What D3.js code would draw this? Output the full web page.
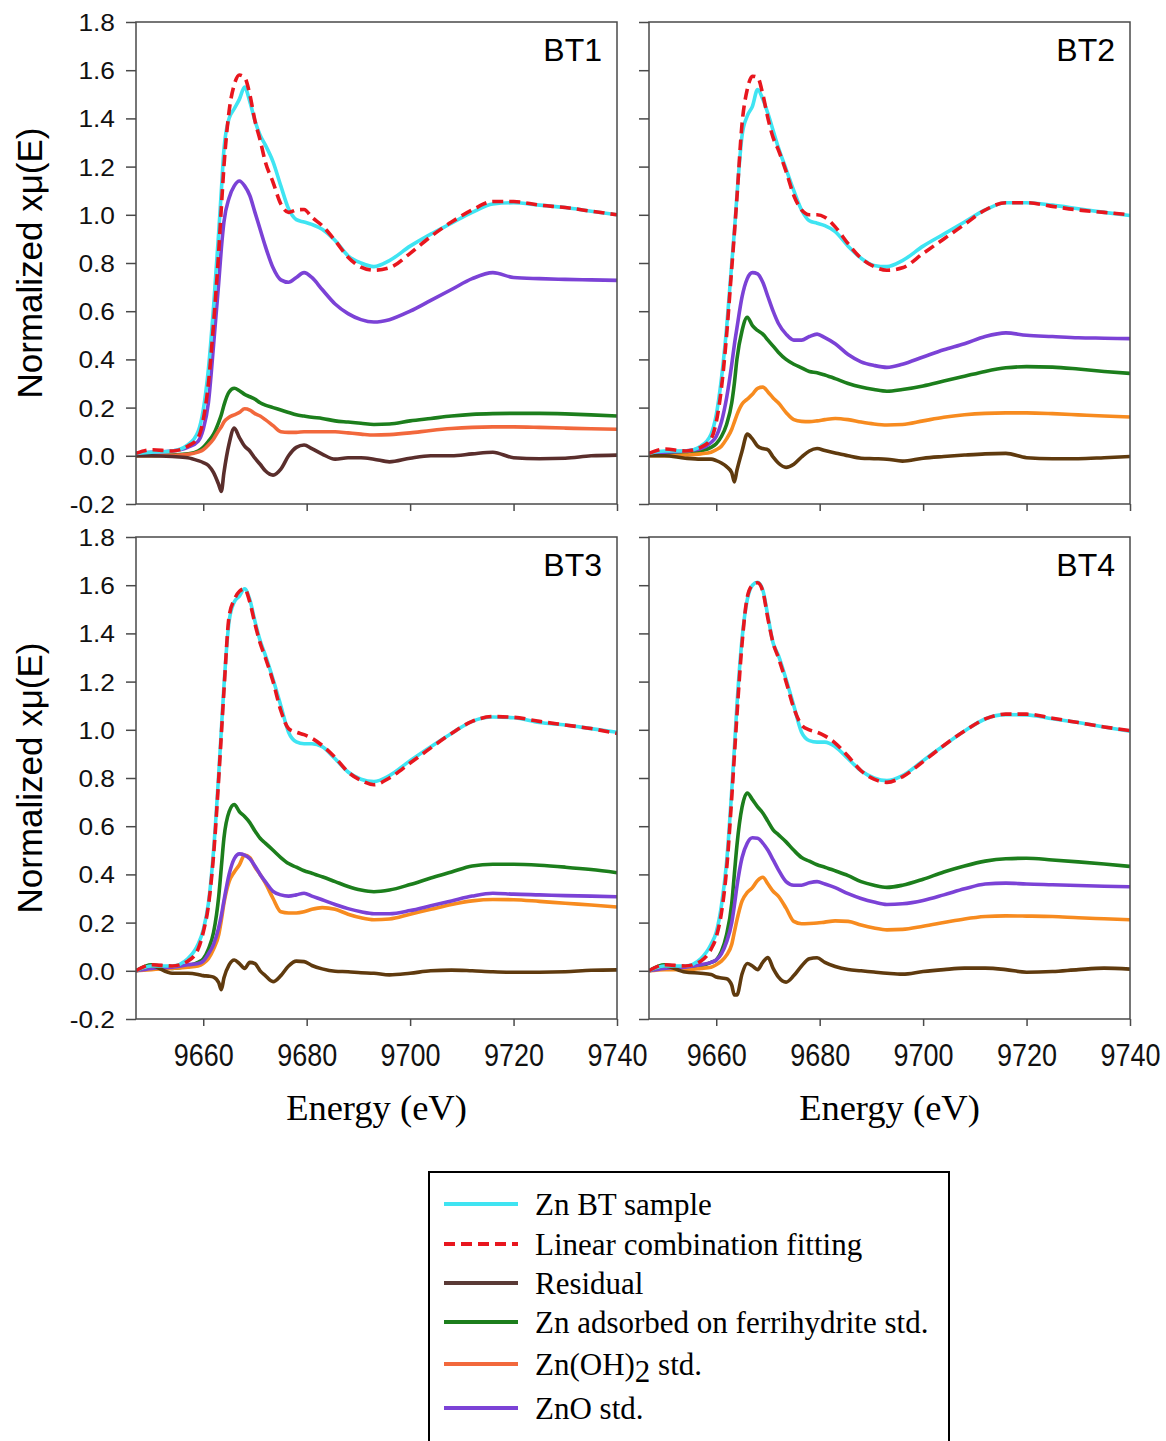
<!DOCTYPE html>
<html>
<head>
<meta charset="utf-8">
<script src="https://cdn.jsdelivr.net/npm/d3@7"></script>
<style>
  body { margin: 0; background: #fff; }
  svg { display: block; }
</style>
</head>
<body>
<svg id="chart" width="1166" height="1441"></svg>
<script>
// Zn K-edge XANES, linear combination fits for four samples (BT1-BT4)
const energy = [9647, 9650, 9654, 9657, 9659, 9660, 9661, 9662, 9663, 9663.5, 9664, 9665, 9666, 9667, 9668, 9669, 9670, 9671, 9672, 9673.5, 9675, 9676.5, 9678, 9679.5, 9681, 9683, 9685.5, 9688, 9690.5, 9693, 9696, 9700, 9704, 9708, 9712, 9716, 9720, 9725, 9730, 9735, 9740];

const bt1Sample = [0.01, 0.015, 0.02, 0.045, 0.10, 0.19, 0.36, 0.62, 0.93, 1.10, 1.27, 1.40, 1.44, 1.48, 1.53, 1.47, 1.39, 1.33, 1.29, 1.22, 1.12, 1.025, 0.98, 0.97, 0.96, 0.94, 0.893, 0.83, 0.80, 0.785, 0.81, 0.87, 0.92, 0.965, 1.01, 1.045, 1.05, 1.04, 1.03, 1.015, 1.0];
const bt1Fit = [0.01, 0.025, 0.02, 0.04, 0.075, 0.15, 0.30, 0.55, 0.85, 1.03, 1.20, 1.43, 1.54, 1.58, 1.57, 1.50, 1.39, 1.31, 1.22, 1.135, 1.045, 1.01, 1.02, 1.022, 0.99, 0.955, 0.893, 0.824, 0.783, 0.77, 0.78, 0.84, 0.91, 0.97, 1.02, 1.055, 1.055, 1.04, 1.03, 1.015, 1.0];
const bt1Residual = [0, 0, -0.003, -0.008, -0.02, -0.028, -0.04, -0.07, -0.12, -0.148, -0.07, 0.05, 0.115, 0.075, 0.04, 0.02, -0.01, -0.035, -0.062, -0.08, -0.055, 0.0, 0.035, 0.045, 0.03, 0.007, -0.014, -0.008, -0.008, -0.014, -0.025, -0.01, 0.0, 0.0, 0.008, 0.015, -0.008, -0.012, -0.01, 0.0, 0.003];
const bt1Ferrihydrite = [0, 0, 0.003, 0.008, 0.02, 0.035, 0.06, 0.09, 0.14, 0.17, 0.21, 0.265, 0.28, 0.27, 0.255, 0.245, 0.235, 0.22, 0.21, 0.20, 0.19, 0.18, 0.17, 0.165, 0.16, 0.155, 0.145, 0.14, 0.135, 0.13, 0.132, 0.145, 0.155, 0.165, 0.172, 0.175, 0.176, 0.176, 0.174, 0.17, 0.165];
const bt1ZnOH2 = [0, 0, 0.002, 0.006, 0.015, 0.025, 0.045, 0.07, 0.105, 0.12, 0.14, 0.16, 0.17, 0.18, 0.195, 0.19, 0.175, 0.165, 0.15, 0.125, 0.10, 0.097, 0.097, 0.1, 0.1, 0.1, 0.1, 0.095, 0.09, 0.086, 0.088, 0.095, 0.105, 0.113, 0.118, 0.12, 0.12, 0.118, 0.115, 0.112, 0.11];
const bt1ZnO = [0.01, 0.015, 0.02, 0.035, 0.06, 0.11, 0.22, 0.46, 0.72, 0.86, 0.97, 1.07, 1.12, 1.14, 1.12, 1.08, 1.01, 0.94, 0.87, 0.78, 0.73, 0.72, 0.74, 0.76, 0.74, 0.69, 0.63, 0.59, 0.565, 0.555, 0.565, 0.60, 0.645, 0.69, 0.735, 0.76, 0.74, 0.735, 0.732, 0.73, 0.728];

const bt2Sample = [0.01, 0.02, 0.02, 0.04, 0.09, 0.17, 0.32, 0.53, 0.80, 0.93, 1.08, 1.33, 1.41, 1.45, 1.52, 1.48, 1.42, 1.35, 1.28, 1.19, 1.10, 1.02, 0.975, 0.965, 0.955, 0.93, 0.87, 0.82, 0.79, 0.785, 0.81, 0.87, 0.92, 0.97, 1.02, 1.05, 1.05, 1.04, 1.025, 1.01, 0.997];
const bt2Fit = [0.01, 0.028, 0.02, 0.035, 0.07, 0.14, 0.28, 0.50, 0.78, 0.92, 1.07, 1.38, 1.52, 1.575, 1.57, 1.50, 1.40, 1.32, 1.27, 1.18, 1.08, 1.02, 1.0, 1.0, 0.99, 0.95, 0.88, 0.82, 0.785, 0.77, 0.78, 0.84, 0.90, 0.96, 1.02, 1.05, 1.05, 1.035, 1.02, 1.01, 1.0];
const bt2Residual = [0, 0, -0.01, -0.014, -0.014, -0.02, -0.03, -0.045, -0.07, -0.108, -0.06, 0.02, 0.09, 0.07, 0.04, 0.03, 0.025, -0.005, -0.03, -0.048, -0.035, -0.005, 0.02, 0.03, 0.022, 0.012, 0.0, -0.01, -0.012, -0.014, -0.022, -0.01, -0.003, 0.003, 0.008, 0.01, -0.008, -0.012, -0.012, -0.008, -0.003];
const bt2Ferrihydrite = [0.005, 0.015, 0.01, 0.02, 0.035, 0.05, 0.08, 0.13, 0.22, 0.30, 0.40, 0.52, 0.575, 0.54, 0.52, 0.505, 0.48, 0.455, 0.43, 0.40, 0.38, 0.365, 0.35, 0.345, 0.335, 0.32, 0.30, 0.285, 0.275, 0.268, 0.275, 0.29, 0.31, 0.33, 0.35, 0.365, 0.37, 0.368, 0.36, 0.35, 0.342];
const bt2ZnOH2 = [0, 0, 0.003, 0.008, 0.015, 0.025, 0.04, 0.07, 0.11, 0.14, 0.17, 0.215, 0.235, 0.255, 0.28, 0.285, 0.265, 0.24, 0.22, 0.18, 0.15, 0.143, 0.142, 0.145, 0.15, 0.155, 0.15, 0.14, 0.132, 0.128, 0.13, 0.145, 0.16, 0.17, 0.176, 0.178, 0.178, 0.175, 0.17, 0.165, 0.161];
const bt2ZnO = [0.01, 0.015, 0.02, 0.03, 0.055, 0.08, 0.14, 0.24, 0.38, 0.46, 0.53, 0.66, 0.735, 0.76, 0.755, 0.72, 0.66, 0.60, 0.55, 0.505, 0.48, 0.48, 0.495, 0.505, 0.49, 0.465, 0.42, 0.39, 0.375, 0.367, 0.38, 0.41, 0.44, 0.465, 0.495, 0.51, 0.50, 0.495, 0.49, 0.488, 0.486];

const bt3Sample = [0.0, 0.02, 0.02, 0.05, 0.11, 0.17, 0.28, 0.50, 0.82, 1.0, 1.18, 1.45, 1.53, 1.555, 1.585, 1.54, 1.45, 1.37, 1.31, 1.21, 1.10, 0.99, 0.95, 0.942, 0.942, 0.93, 0.88, 0.825, 0.795, 0.785, 0.81, 0.872, 0.93, 0.985, 1.035, 1.053, 1.05, 1.03, 1.02, 1.005, 0.99];
const bt3Fit = [0.0, 0.025, 0.02, 0.04, 0.09, 0.16, 0.27, 0.48, 0.80, 0.98, 1.16, 1.47, 1.54, 1.575, 1.585, 1.53, 1.44, 1.36, 1.30, 1.20, 1.08, 1.005, 0.99, 0.98, 0.965, 0.935, 0.885, 0.825, 0.79, 0.772, 0.80, 0.862, 0.925, 0.985, 1.035, 1.055, 1.052, 1.035, 1.02, 1.005, 0.985];
const bt3Residual = [0, 0.02, -0.01, -0.01, -0.015, -0.02, -0.022, -0.026, -0.05, -0.078, -0.03, 0.025, 0.045, 0.03, 0.01, 0.035, 0.03, 0.0, -0.02, -0.045, -0.02, 0.02, 0.04, 0.038, 0.022, 0.008, -0.002, -0.004, -0.008, -0.01, -0.017, -0.01, 0.0, 0.003, 0.0, -0.004, -0.006, -0.006, -0.004, 0.002, 0.004];
const bt3Ferrihydrite = [0, 0.025, 0.01, 0.02, 0.035, 0.05, 0.09, 0.16, 0.31, 0.43, 0.55, 0.66, 0.69, 0.66, 0.64, 0.615, 0.58, 0.55, 0.53, 0.50, 0.47, 0.445, 0.43, 0.415, 0.405, 0.39, 0.37, 0.35, 0.335, 0.328, 0.335, 0.358, 0.385, 0.41, 0.435, 0.442, 0.442, 0.438, 0.43, 0.42, 0.407];
const bt3ZnOH2 = [0, 0.005, 0.01, 0.015, 0.02, 0.03, 0.05, 0.09, 0.15, 0.21, 0.28, 0.37, 0.41, 0.44, 0.48, 0.47, 0.43, 0.40, 0.365, 0.30, 0.245, 0.24, 0.24, 0.245, 0.255, 0.262, 0.255, 0.235, 0.22, 0.212, 0.215, 0.235, 0.255, 0.275, 0.29, 0.296, 0.295, 0.288, 0.28, 0.273, 0.265];
const bt3ZnO = [0, 0.01, 0.015, 0.025, 0.03, 0.04, 0.07, 0.11, 0.18, 0.23, 0.29, 0.40, 0.465, 0.485, 0.48, 0.465, 0.435, 0.40, 0.37, 0.33, 0.315, 0.31, 0.315, 0.322, 0.31, 0.295, 0.275, 0.258, 0.245, 0.237, 0.237, 0.25, 0.27, 0.29, 0.31, 0.322, 0.318, 0.315, 0.312, 0.31, 0.307];

const bt4Sample = [0.0, 0.02, 0.02, 0.05, 0.11, 0.16, 0.27, 0.45, 0.75, 0.92, 1.10, 1.38, 1.54, 1.60, 1.612, 1.58, 1.47, 1.36, 1.31, 1.21, 1.10, 0.99, 0.955, 0.949, 0.949, 0.93, 0.88, 0.83, 0.80, 0.789, 0.81, 0.872, 0.935, 0.995, 1.045, 1.063, 1.062, 1.046, 1.03, 1.012, 0.994];
const bt4Fit = [0.0, 0.025, 0.02, 0.04, 0.09, 0.14, 0.24, 0.42, 0.72, 0.89, 1.06, 1.36, 1.55, 1.60, 1.61, 1.575, 1.46, 1.36, 1.30, 1.20, 1.09, 1.02, 1.0, 0.99, 0.975, 0.945, 0.89, 0.83, 0.795, 0.782, 0.805, 0.868, 0.935, 0.995, 1.045, 1.065, 1.065, 1.048, 1.03, 1.012, 0.997];
const bt4Residual = [0, 0.02, -0.005, -0.01, -0.015, -0.026, -0.03, -0.033, -0.06, -0.1, -0.1, -0.012, 0.03, 0.02, 0.005, 0.035, 0.055, 0.01, -0.025, -0.047, -0.02, 0.02, 0.05, 0.054, 0.035, 0.018, 0.005, 0.0, -0.005, -0.01, -0.014, -0.003, 0.005, 0.011, 0.011, 0.005, -0.006, -0.003, 0.005, 0.011, 0.007];
const bt4Ferrihydrite = [0, 0.025, 0.01, 0.02, 0.035, 0.045, 0.08, 0.15, 0.28, 0.40, 0.52, 0.68, 0.738, 0.71, 0.68, 0.655, 0.62, 0.585, 0.565, 0.535, 0.50, 0.47, 0.455, 0.44, 0.43, 0.415, 0.395, 0.37, 0.355, 0.346, 0.355, 0.38, 0.41, 0.435, 0.455, 0.465, 0.467, 0.46, 0.452, 0.443, 0.433];
const bt4ZnOH2 = [0, 0.005, 0.005, 0.01, 0.015, 0.025, 0.04, 0.065, 0.11, 0.16, 0.21, 0.29, 0.325, 0.345, 0.375, 0.388, 0.36, 0.33, 0.31, 0.26, 0.205, 0.195, 0.196, 0.198, 0.202, 0.207, 0.205, 0.19, 0.178, 0.17, 0.172, 0.185, 0.2, 0.215, 0.225, 0.228, 0.227, 0.225, 0.22, 0.216, 0.212];
const bt4ZnO = [0, 0.01, 0.015, 0.025, 0.035, 0.045, 0.07, 0.12, 0.2, 0.27, 0.35, 0.47, 0.53, 0.552, 0.55, 0.53, 0.50, 0.46, 0.42, 0.37, 0.355, 0.355, 0.365, 0.37, 0.36, 0.345, 0.32, 0.3, 0.285, 0.275, 0.278, 0.292, 0.315, 0.34, 0.36, 0.364, 0.36, 0.357, 0.354, 0.351, 0.349];

const panelNames = ["BT1", "BT2", "BT3", "BT4"];
const xTicks = [9660, 9680, 9700, 9720, 9740];
const yTicks = [-0.2, 0.0, 0.2, 0.4, 0.6, 0.8, 1.0, 1.2, 1.4, 1.6, 1.8];
const xDomain = [9647, 9740];
const yDomain = [-0.2, 1.8];

const legendLabels = ["Zn BT sample", "Linear combination fitting", "Residual",
  "Zn adsorbed on ferrihydrite std.", "Zn(OH)2 std.", "ZnO std."];

// ---- styling ----
const C = {
  sample: "#3fe4f2",
  fit: "#e8161e",
  residual1: "#5a2e2c",
  residual: "#5f3a0e",
  ferri: "#1c7e1c",
  znoh1: "#f2683c",
  znoh: "#f78b1f",
  zno: "#7b42d6",
  axis: "#4a4a4a"
};
const SANS = "'Liberation Sans', Arial, sans-serif";
const SERIF = "'Liberation Serif', 'Times New Roman', serif";

const panels = [
  { name: panelNames[0], box: { x0: 136, x1: 617, y0: 22, y1: 504 }, left: true, bottom: false,
    series: { ferri: bt1Ferrihydrite, znoh: bt1ZnOH2, zno: bt1ZnO, residual: bt1Residual, sample: bt1Sample, fit: bt1Fit },
    residualColor: C.residual1, znohColor: C.znoh1 },
  { name: panelNames[1], box: { x0: 649, x1: 1130, y0: 22, y1: 504 }, left: false, bottom: false,
    series: { ferri: bt2Ferrihydrite, znoh: bt2ZnOH2, zno: bt2ZnO, residual: bt2Residual, sample: bt2Sample, fit: bt2Fit },
    residualColor: C.residual, znohColor: C.znoh },
  { name: panelNames[2], box: { x0: 136, x1: 617, y0: 537, y1: 1019 }, left: true, bottom: true,
    series: { ferri: bt3Ferrihydrite, znoh: bt3ZnOH2, zno: bt3ZnO, residual: bt3Residual, sample: bt3Sample, fit: bt3Fit },
    residualColor: C.residual, znohColor: C.znoh },
  { name: panelNames[3], box: { x0: 649, x1: 1130, y0: 537, y1: 1019 }, left: false, bottom: true,
    series: { ferri: bt4Ferrihydrite, znoh: bt4ZnOH2, zno: bt4ZnO, residual: bt4Residual, sample: bt4Sample, fit: bt4Fit },
    residualColor: C.residual, znohColor: C.znoh }
];

const svg = d3.select("#chart");
svg.append("rect").attr("width", 1166).attr("height", 1441).attr("fill", "#fff");

panels.forEach(p => {
  const b = p.box;
  const x = d3.scaleLinear().domain(xDomain).range([b.x0, b.x1]);
  const y = d3.scaleLinear().domain(yDomain).range([b.y1, b.y0]);
  const g = svg.append("g");

  const line = vals => d3.line()
    .x((d, i) => x(energy[i]))
    .y(d => y(d))
    .curve(d3.curveMonotoneX)(vals);

  const clipId = "clip-" + p.name;
  g.append("clipPath").attr("id", clipId).append("rect")
    .attr("x", b.x0).attr("y", b.y0 - 2).attr("width", b.x1 - b.x0).attr("height", b.y1 - b.y0 + 4);
  const plot = g.append("g").attr("clip-path", `url(#${clipId})`);

  const order = [
    { key: "ferri", color: C.ferri },
    { key: "znoh", color: p.znohColor },
    { key: "zno", color: C.zno },
    { key: "residual", color: p.residualColor },
    { key: "sample", color: C.sample },
    { key: "fit", color: C.fit, dash: "11,6" }
  ];
  order.forEach(s => {
    plot.append("path")
      .attr("d", line(p.series[s.key]))
      .attr("fill", "none")
      .attr("stroke", s.color)
      .attr("stroke-width", 3.6)
      .attr("stroke-linejoin", "round")
      .attr("stroke-dasharray", s.dash || null);
  });

  // frame
  g.append("rect")
    .attr("x", b.x0).attr("y", b.y0)
    .attr("width", b.x1 - b.x0).attr("height", b.y1 - b.y0)
    .attr("fill", "none").attr("stroke", C.axis).attr("stroke-width", 1.5);

  // y axis
  const yAxis = d3.axisLeft(y).tickValues(yTicks).tickSize(10)
    .tickFormat(p.left ? (d => d.toFixed(1)) : "");
  const ya = g.append("g").attr("transform", `translate(${b.x0},0)`).call(yAxis);
  ya.select(".domain").remove();
  ya.selectAll(".tick line").attr("stroke", C.axis).attr("stroke-width", 1.5);
  ya.selectAll(".tick text")
    .attr("x", 0).attr("dy", "0.36em")
    .attr("transform", "translate(-21,0) scale(1.12,1)")
    .attr("fill", "#111")
    .style("font-family", SANS).style("font-size", "23.5px");

  // x axis
  const xAxis = d3.axisBottom(x).tickValues(xTicks).tickSize(7)
    .tickFormat(p.bottom ? d3.format("d") : "");
  const xa = g.append("g").attr("transform", `translate(0,${b.y1})`).call(xAxis);
  xa.select(".domain").remove();
  xa.selectAll(".tick line").attr("stroke", C.axis).attr("stroke-width", 1.5);
  xa.selectAll(".tick text")
    .attr("y", 0).attr("dy", 0)
    .attr("transform", "translate(0,47) scale(0.87,1)")
    .attr("fill", "#111")
    .style("font-family", SANS).style("font-size", "31px");

  // panel label
  g.append("text")
    .attr("x", b.x1 - 15).attr("y", b.y0 + 39)
    .attr("text-anchor", "end")
    .style("font-family", SANS).style("font-size", "32px")
    .attr("fill", "#000")
    .text(p.name);

  // axis titles
  if (p.left) {
    g.append("text")
      .attr("transform", `translate(42,${(b.y0 + b.y1) / 2}) rotate(-90)`)
      .attr("text-anchor", "middle")
      .style("font-family", SANS).style("font-size", "35px")
      .attr("fill", "#000")
      .text("Normalized x\u03bc(E)");
  }
  if (p.bottom) {
    g.append("text")
      .attr("x", (b.x0 + b.x1) / 2).attr("y", 1120)
      .attr("text-anchor", "middle")
      .style("font-family", SERIF).style("font-size", "36.5px")
      .attr("fill", "#000")
      .text("Energy (eV)");
  }
});

// ---- legend ----
const legend = svg.append("g");
legend.append("rect")
  .attr("x", 429).attr("y", 1172).attr("width", 520).attr("height", 300)
  .attr("fill", "#fff").attr("stroke", "#000").attr("stroke-width", 2);

const legendStyles = [
  { color: C.sample },
  { color: C.fit, dash: "11,6" },
  { color: "#5a3a36" },
  { color: C.ferri },
  { color: C.znoh1 },
  { color: C.zno }
];
const legendRowY = [1204, 1244, 1283, 1322, 1364, 1408];

legendLabels.forEach((label, i) => {
  const cy = legendRowY[i];
  legend.append("line")
    .attr("x1", 444).attr("x2", 518).attr("y1", cy).attr("y2", cy)
    .attr("stroke", legendStyles[i].color).attr("stroke-width", 4)
    .attr("stroke-dasharray", legendStyles[i].dash || null);
  const t = legend.append("text")
    .attr("x", 535).attr("y", cy + 11)
    .style("font-family", SERIF).style("font-size", "31px")
    .attr("fill", "#000");
  const m = label.match(/^(.*\))(\d)(.*)$/);
  if (m) {
    t.append("tspan").text(m[1]);
    t.append("tspan").attr("dy", 7).text(m[2]);
    t.append("tspan").attr("dy", -7).text(m[3]);
  } else {
    t.text(label);
  }
});
</script>
</body>
</html>
